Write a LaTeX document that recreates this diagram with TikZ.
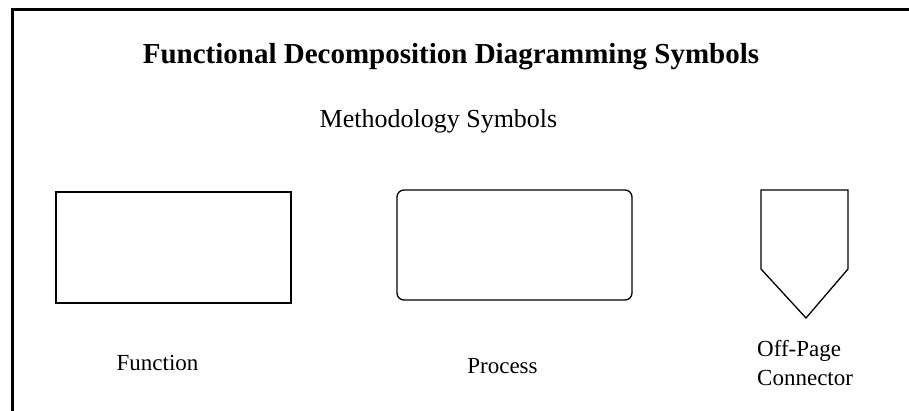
\documentclass[tikz,border=0pt]{standalone}
\usepackage{fontspec}
\setmainfont{Liberation Serif}
\tikzset{
  lbl/.style={inner sep=0pt, font=\fontsize{23}{26}\selectfont},
  symb/.style={draw=black, line width=1.3pt},
}
\begin{document}
\begin{tikzpicture}[x=1pt,y=1pt]
\useasboundingbox (0,0) rectangle (909,410);
\fill[white] (0,0) rectangle (909,410);
\draw[line width=3pt] (12.5,-5) -- (12.5,400.5) -- (915,400.5);
\node[inner sep=0pt, anchor=base, font=\fontsize{29}{32}\selectfont\bfseries] (title) at (451,346) {Functional Decomposition Diagramming Symbols};
\node[inner sep=0pt, anchor=base, font=\fontsize{26}{30}\selectfont] (sub) at (438.5,282) {Methodology Symbols};
\draw[symb] (56,107) rectangle (291,218);
\draw[symb, rounded corners=7pt] (397,110) rectangle (632,220);
\draw[symb, line join=miter] (761,220) -- (761,141) -- (806,92) -- (848,141) -- (848,220) -- cycle;
\node[lbl, anchor=base] (f) at (157.5,40) {Function};
\node[lbl, anchor=base] (p) at (502.5,37) {Process};
\node[lbl, anchor=base west] (o1) at (757,54) {Off-Page};
\node[lbl, anchor=base west] (o2) at (757,25) {Connector};
\end{tikzpicture}
\end{document}
